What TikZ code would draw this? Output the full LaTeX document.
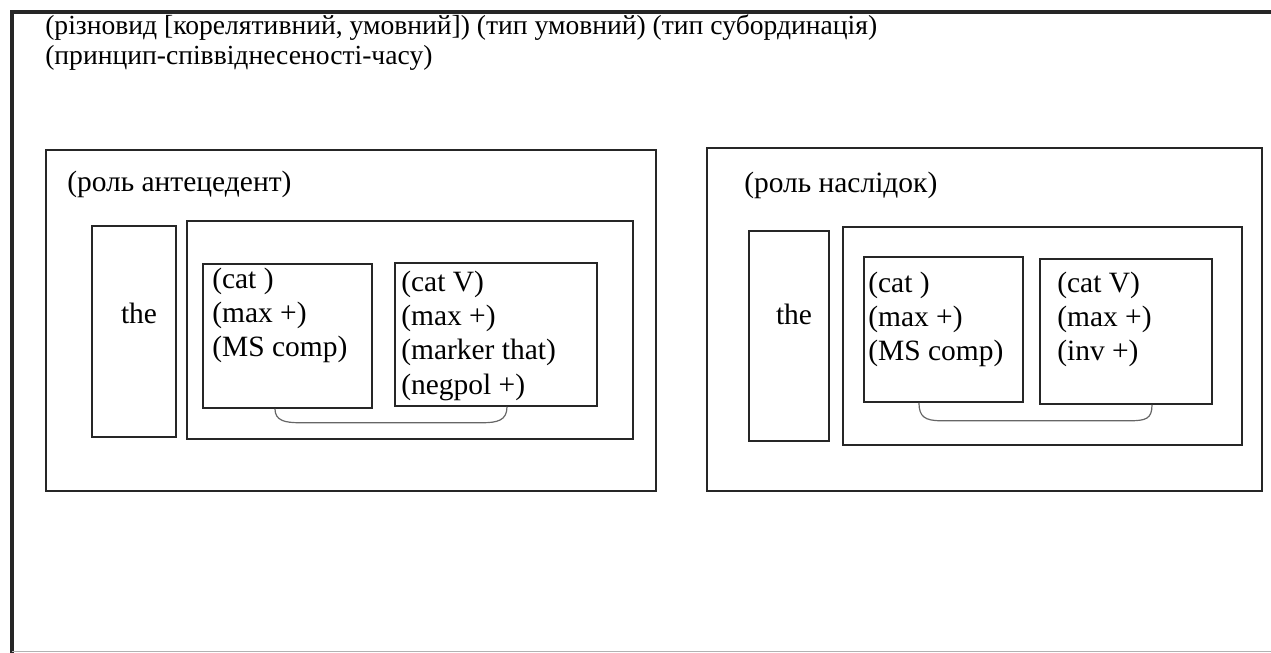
\documentclass[tikz,border=0pt]{standalone}
\usepackage{fontspec}
\setmainfont{Liberation Serif}
\usetikzlibrary{fit}
\begin{document}
\begin{tikzpicture}[x=0.75pt,y=-0.75pt,
  box/.style={draw=black!85, line width=1.1pt, inner sep=0pt},
  txt/.style={font=\fontsize{22.1pt}{25.6pt}\selectfont, inner sep=0pt, align=left, anchor=north west},
  hdr/.style={font=\fontsize{20.7pt}{22.5pt}\selectfont, inner sep=0pt, align=left, anchor=north west},
  word/.style={font=\fontsize{22.1pt}{25.6pt}\selectfont, inner sep=0pt},
  link/.style={draw=black!60, line width=0.9pt}]
\useasboundingbox (0,0) rectangle (1271,653);
% outer frame
\draw[line width=2.6pt, black!85] (12,653) -- (12,12) -- (1271,12);
\draw[line width=0.8pt, black!30] (12,651.5) -- (1271,651.5);
\node[hdr] (hdr) at (45,14) {(різновид [корелятивний, умовний]) (тип умовний) (тип субординація)\\(принцип-співвіднесеності-часу)};
% left: antecedent
\node[box, fit={(46,150) (656,491)}] (ante) {};
\node[txt] (rl1) at (67,171) {(роль антецедент)};
\node[box, fit={(92,226) (176,437)}] (the1) {};
\node[word] (thet1) at (139,313) {the};
\node[box, fit={(187,221) (633,439)}] (in1) {};
\node[box, fit={(203,264) (372,408)}] (a1) {};
\node[txt] (a1t) at (212,268) {(cat )\\(max +)\\(MS comp)};
\node[box, fit={(395,263) (597,406)}] (a2) {};
\node[txt] (a2t) at (401,271) {(cat V)\\(max +)\\(marker that)\\(negpol +)};
\draw[link] ([xshift=-9.4pt]a1.south) .. controls +(0,12) and +(-15,0) .. ++(25,14) -- ++(182,0) .. controls +(15,0) and +(0,14) .. ([xshift=8.25pt]a2.south);
% right: consequent
\node[box, fit={(707,148) (1262,491)}] (cons) {};
\node[txt] (rl2) at (744,172) {(роль наслідок)};
\node[box, fit={(749,231) (829,441)}] (the2) {};
\node[word] (thet2) at (794,314) {the};
\node[box, fit={(843,227) (1242,445)}] (in2) {};
\node[box, fit={(864,257) (1023,402)}] (b1) {};
\node[txt] (b1t) at (868,272) {(cat )\\(max +)\\(MS comp)};
\node[box, fit={(1040,259) (1212,404)}] (b2) {};
\node[txt] (b2t) at (1057,272) {(cat V)\\(max +)\\(inv +)};
\draw[link] ([xshift=-18.4pt]b1.south) .. controls +(0,14) and +(-16,0) .. ++(22,18) -- ++(189,0) .. controls +(16,0) and +(0,14) .. ([xshift=19.5pt]b2.south);
\end{tikzpicture}
\end{document}
